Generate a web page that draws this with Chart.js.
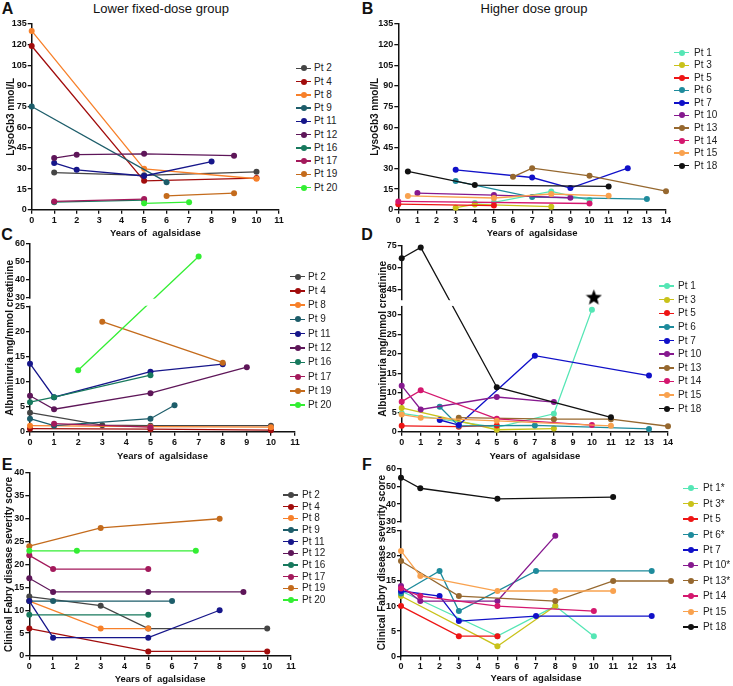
<!DOCTYPE html>
<html>
<head>
<meta charset="utf-8">
<script src="https://cdn.jsdelivr.net/npm/chart.js@4.4.1/dist/chart.umd.min.js"></script>
<style>
  body { margin: 0; background: #fff; width: 733px; height: 686px; position: relative; overflow: hidden;
         font-family: 'Liberation Sans', Arial, sans-serif; color: #111; }
  canvas { position: absolute; }
  .lbl { position: absolute; transform: translate(-50%, -50%); white-space: nowrap; }
  .letter { font-weight: bold; font-size: 16px; }
  .ptitle { font-size: 13px; }
  .leg { position: absolute; font-size: 10px; color: #222; white-space: nowrap; }
  .leg i { position: absolute; height: 1.5px; top: -0.75px; width: 15px; left: 0; }
  .leg b { position: absolute; width: 6px; height: 6px; border-radius: 50%; top: -3px; left: 4.5px; }
  .leg span { position: absolute; top: -6px; line-height: 12px; }
</style>
</head>
<body>
<div class="lbl letter" style="left:7.5px;top:8.5px">A</div>
<div class="lbl letter" style="left:367.5px;top:8.5px">B</div>
<div class="lbl letter" style="left:7px;top:235px">C</div>
<div class="lbl letter" style="left:367px;top:235px">D</div>
<div class="lbl letter" style="left:7px;top:465px">E</div>
<div class="lbl letter" style="left:367px;top:465px">F</div>
<div class="lbl ptitle" style="left:161px;top:8px">Lower fixed-dose group</div>
<div class="lbl ptitle" style="left:534px;top:8px">Higher dose group</div>

<script>
const xTitle = 'Years of  agalsidase';

const lowPatients = ['Pt 2', 'Pt 4', 'Pt 8', 'Pt 9', 'Pt 11', 'Pt 12', 'Pt 16', 'Pt 17', 'Pt 19', 'Pt 20'];
const highPatients = ['Pt 1', 'Pt 3', 'Pt 5', 'Pt 6', 'Pt 7', 'Pt 10', 'Pt 13', 'Pt 14', 'Pt 15', 'Pt 18'];
const highPatientsScore = ['Pt 1*', 'Pt 3*', 'Pt 5', 'Pt 6*', 'Pt 7', 'Pt 10*', 'Pt 13*', 'Pt 14', 'Pt 15', 'Pt 18'];

const lowColors = ['#454545', '#a10c0c', '#f7802a', '#1d5d6a', '#16168a', '#5e1659', '#17795d', '#a3195b', '#c46b1c', '#33ee33'];
const highColors = ['#55e6b5', '#c9c21a', '#ee1515', '#1e8b9c', '#1010c8', '#86198f', '#96682f', '#d4176e', '#f9a24f', '#111111'];

// A - lysoGb3, lower dose
const lysoLowYears = [[1, 5, 10], [0, 5, 10], [0, 5, 10], [0, 6], [1, 2, 5, 8], [1, 2, 5, 9], [1, 5], [1, 5], [6, 9], [5, 7]];
const lysoLowValues = [[27, 25, 27.5], [119, 21, 23], [130, 29.7, 22.5], [75, 20], [34, 29, 24.5, 35], [37.5, 40, 40.6, 39.3], [5.5, 7], [6, 7.7], [10, 12], [4.6, 5.5]];

// B - lysoGb3, higher dose
const lysoHighYears = [[4, 5, 8, 10], [3, 4, 8], [0, 5], [3, 7, 13], [3, 7, 9, 12], [1, 5, 9], [6, 7, 10, 14], [0, 10], [0.5, 5, 8, 11], [0.5, 4, 11]];
const lysoHighValues = [[4.9, 5.3, 13.3, 7], [1.5, 3.8, 2.2], [4, 3], [20.8, 9.2, 7.7], [29, 23.4, 15.7, 30.2], [12.1, 10.6, 8.7], [23.9, 30.2, 24.6, 13.5], [6, 4.5], [10, 8.5, 11.4, 10.1], [27.8, 17.9, 16.9]];

// C - albuminuria, lower dose
const albLowYears = [[0, 3, 5, 10], [0, 5, 10], [0, 5, 10], [0, 1, 5, 6], [0, 1, 5, 8], [0, 1, 5, 9], [0, 1, 5], [1, 5], [3, 8], [2, 7]];
const albLowValues = [[3.8, 1.3, 1.2, 1.2], [0.6, 0.5, 0.3], [1.2, 1.0, 0.9], [2.6, 1.2, 2.6, 5.3], [13.6, 6.9, 12, 13.5], [7.2, 4.5, 7.7, 12.9], [5.9, 6.9, 11.3], [1.6, 0.9], [22, 13.8], [12.3, 53]];

// D - albuminuria, higher dose
const albHighYears = [[0, 5, 8, 10], [0, 5, 8], [0, 3, 5], [2, 3, 7, 13], [2, 3, 7, 13], [0, 1, 5, 8], [3, 8, 11, 14], [0, 1, 5, 10], [0, 1, 5, 11], [0, 1, 5, 11]];
const albHighValues = [[4.7, 1.1, 4.6, 31.3], [6.1, 0.5, 0.8], [1.5, 1.3, 1.6], [6.4, 1.5, 1.6, 0.7], [3, 1.7, 19.5, 14.4], [11.8, 5.7, 8.9, 7.6], [3.6, 3.2, 3.2, 1.4], [7.7, 10.6, 3.3, 1.7], [4.4, 3.6, 2.8, 1.5], [66.5, 74, 11.4, 3.7]];
const starYears = [10.1];
const starValues = [39.5];

// E - severity score, lower dose
const scoreLowYears = [[0, 3, 5, 10], [0, 5, 10], [0, 3, 5], [0, 1, 6], [0, 1, 5, 8], [0, 1, 5, 9], [0, 5], [0, 1, 5], [0, 3, 8], [0, 2, 7]];
const scoreLowValues = [[13, 11, 6, 6], [6, 1, 1], [12, 6, 6], [12, 12, 12], [12, 4, 4, 10], [17, 14, 14, 14], [9, 9], [22, 19, 19], [24, 28, 30], [23, 23, 23]];

// F - severity score, higher dose
const scoreHighYears = [[0, 5, 8, 10], [0, 5, 8], [0, 3, 5], [0, 2, 3, 7, 13], [0, 2, 3, 7, 13], [0, 1, 5, 8], [0, 3, 8, 11, 14], [0, 1, 5, 10], [0, 1, 5, 8, 11], [0, 1, 5, 11]];
const scoreHighValues = [[13, 4, 10, 4], [12, 2, 10], [10, 4, 4], [12.5, 17, 9, 17, 17], [13, 12, 7, 8, 8], [14, 11, 11, 24], [19, 12, 11, 15, 15], [13.5, 12, 10, 9], [21, 16, 13, 13, 13], [55, 49, 43, 44]];

const lysoTicks = [0, 15, 30, 45, 60, 75, 90, 105, 120, 135];
const albLowTicks = [0, 5, 10, 15, 20, 25, 30, 40, 50, 60];
const albHighTicks = [0, 5, 10, 15, 20, 25, 30, 45, 60, 75];
const scoreLowTicks = [0, 5, 10, 15, 20, 25, 30, 35, 40];
const scoreHighTicks = [0, 5, 10, 15, 20, 25, 30, 40, 50, 60];

// y axis with a gap between a low and a high segment (GraphPad style)
class BrokenScale extends Chart.LinearScale {
  static id = 'brokenLinear';
  static defaults = Chart.LinearScale.defaults;
  segs() {
    const b = this.options.brk;
    const span = this.bottom - this.top - b.gap;
    return { b, lowH: span * b.lowFrac, upH: span * (1 - b.lowFrac) };
  }
  getPixelForValue(v) {
    if (v === null || v === undefined) return NaN;
    const { b, lowH, upH } = this.segs();
    if (v <= b.lowMax) return this.bottom - (v - this.min) / (b.lowMax - this.min) * lowH;
    if (v >= b.upMin) return this.top + (this.max - v) / (this.max - b.upMin) * upH;
    return this.bottom - lowH - (v - b.lowMax) / (b.upMin - b.lowMax) * b.gap;
  }
  getValueForPixel(px) {
    const { b, lowH, upH } = this.segs();
    if (px >= this.bottom - lowH) return this.min + (this.bottom - px) / lowH * (b.lowMax - this.min);
    if (px <= this.top + upH) return this.max - (px - this.top) / upH * (this.max - b.upMin);
    return b.lowMax + (this.bottom - lowH - px) / b.gap * (b.upMin - b.lowMax);
  }
}
Chart.register(BrokenScale);

function eraseGap(chart) {
  const s = chart.scales.y;
  const b = s.options.brk;
  if (!b) return;
  const y1 = s.getPixelForValue(b.upMin) + 1;
  const y2 = s.getPixelForValue(b.lowMax) - 1;
  const ctx = chart.ctx;
  ctx.save();
  ctx.fillStyle = '#fff';
  ctx.fillRect(chart.chartArea.left - 3, y1, chart.chartArea.right - chart.chartArea.left + 20, y2 - y1);
  ctx.restore();
}

const breakGap = {
  id: 'breakGap',
  beforeDatasetDraw(chart, args) {
    if (chart.data.datasets[args.index].isStar) eraseGap(chart);
  },
  afterDatasetsDraw(chart) {
    if (!chart.data.datasets.some(d => d.isStar)) eraseGap(chart);
  }
};

function starImage(size) {
  const c = document.createElement('canvas');
  c.width = c.height = size;
  const g = c.getContext('2d');
  const r = size / 2, ri = r * 0.42;
  g.fillStyle = '#000';
  g.beginPath();
  for (let k = 0; k < 10; k++) {
    const rr = k % 2 ? ri : r;
    const a = -Math.PI / 2 + k * Math.PI / 5;
    g.lineTo(r + rr * Math.cos(a), r * 1.08 + rr * Math.sin(a));
  }
  g.closePath();
  g.fill();
  return c;
}

const tickFont = { family: "'Liberation Sans', Arial, sans-serif", size: 9, weight: 'bold' };
const yTitleFont = { family: "'Liberation Sans', Arial, sans-serif", size: 10, weight: 'bold' };
const xTitleFont = { family: "'Liberation Sans', Arial, sans-serif", size: 9.5, weight: 'bold' };

function makePanel(p) {
  const cx = p.x0, cy = p.top - 14;
  const cw = p.right + 14 - cx, ch = p.xTitleY + 9 - cy;
  const cv = document.createElement('canvas');
  cv.width = cw; cv.height = ch;
  cv.style.left = cx + 'px'; cv.style.top = cy + 'px';
  document.body.appendChild(cv);

  const datasets = p.names.map((name, i) => ({
    label: name,
    data: p.xs[i].map((x, j) => ({ x: x, y: p.ys[i][j] })),
    borderColor: p.colors[i],
    backgroundColor: p.colors[i],
    pointBackgroundColor: p.colors[i],
    pointBorderWidth: 0,
    pointRadius: 3,
    borderWidth: 1.3,
    clip: false,
    order: -i
  }));
  if (p.star) {
    datasets.push({
      label: 'star',
      isStar: true,
      data: p.star.xs.map((x, j) => ({ x: x, y: p.star.ys[j] })),
      showLine: false,
      pointStyle: starImage(17),
      clip: false,
      order: -100
    });
  }

  new Chart(cv, {
    type: 'line',
    data: { datasets },
    options: {
      responsive: false,
      animation: false,
      events: [],
      layout: { padding: { top: 14, right: 14, left: 0, bottom: 0 } },
      plugins: { legend: { display: false }, tooltip: { enabled: false } },
      scales: {
        x: {
          type: 'linear', min: 0, max: p.xMax,
          afterBuildTicks: a => { a.ticks = p.xTicks.map(v => ({ value: v })); },
          afterFit: s => { s.height = cy + ch - p.bottom; },
          grid: { display: true, drawOnChartArea: false, drawTicks: true, tickLength: 4, color: '#111', lineWidth: 1.3 },
          border: { display: true, color: '#111', width: 1.5 },
          ticks: { font: tickFont, color: '#111', padding: 1, autoSkip: false, maxRotation: 0 },
          title: { display: true, text: xTitle, font: xTitleFont, color: '#111',
                   padding: { top: 0, bottom: cy + ch - p.xTitleY - 5.7 } }
        },
        y: {
          type: p.brk ? 'brokenLinear' : 'linear',
          min: p.yTicks[0], max: p.yTicks[p.yTicks.length - 1],
          brk: p.brk,
          afterBuildTicks: a => { a.ticks = p.yTicks.map(v => ({ value: v })); },
          afterFit: s => { s.width = p.left - cx; },
          grid: { display: true, drawOnChartArea: false, drawTicks: true, tickLength: 4, color: '#111', lineWidth: 1.3 },
          border: { display: true, color: '#111', width: 1.5 },
          ticks: { font: tickFont, color: '#111', padding: 1 },
          title: { display: true, text: p.yTitle, font: yTitleFont, color: '#111',
                   padding: { top: p.yTitleX - cx - 6, bottom: 0 } }
        }
      }
    },
    plugins: [breakGap]
  });

  // legend
  p.names.forEach((name, i) => {
    const row = document.createElement('div');
    row.className = 'leg';
    row.style.left = p.legX + 'px';
    row.style.top = (p.legTop + i * p.legStep) + 'px';
    row.innerHTML = '<i style="background:' + p.colors[i] + '"></i><b style="background:' + p.colors[i] + '"></b>' +
      '<span style="left:' + (p.legTextX - p.legX) + 'px">' + name + '</span>';
    document.body.appendChild(row);
  });
}

const xTicks11 = [0, 1, 2, 3, 4, 5, 6, 7, 8, 9, 10, 11];
const xTicks14 = [0, 1, 2, 3, 4, 5, 6, 7, 8, 9, 10, 11, 12, 13, 14];

makePanel({ x0: 0, left: 31.7, right: 279, top: 24.3, bottom: 210.7, xTitleY: 234, yTitleX: 11,
  xMax: 11, xTicks: xTicks11, yTicks: lysoTicks, yTitle: 'LysoGb3 nmol/L',
  names: lowPatients, colors: lowColors, xs: lysoLowYears, ys: lysoLowValues,
  legX: 296, legTextX: 314, legTop: 68.3, legStep: 13.27 });

makePanel({ x0: 366, left: 398.3, right: 666, top: 24.3, bottom: 210.7, xTitleY: 234, yTitleX: 375.5,
  xMax: 14, xTicks: xTicks14, yTicks: lysoTicks, yTitle: 'LysoGb3 nmol/L',
  names: highPatients, colors: highColors, xs: lysoHighYears, ys: lysoHighValues,
  legX: 674, legTextX: 694, legTop: 52.7, legStep: 12.55 });

makePanel({ x0: 0, left: 30, right: 295, top: 244, bottom: 431.7, xTitleY: 456, yTitleX: 10,
  xMax: 11, xTicks: xTicks11, yTicks: albLowTicks, yTitle: 'Albuminuria mg/mmol creatinine',
  brk: { lowMax: 25, upMin: 30, gap: 9, lowFrac: 0.6995 },
  names: lowPatients, colors: lowColors, xs: albLowYears, ys: albLowValues,
  legX: 290, legTextX: 308, legTop: 276.7, legStep: 14.26 });

makePanel({ x0: 366, left: 401.7, right: 668.7, top: 245.7, bottom: 431.7, xTitleY: 456, yTitleX: 383,
  xMax: 14, xTicks: xTicks14, yTicks: albHighTicks, yTitle: 'Albuminuria mg/mmol creatinine',
  brk: { lowMax: 32, upMin: 38, gap: 7.7, lowFrac: 0.701 },
  star: { xs: starYears, ys: starValues },
  names: highPatients, colors: highColors, xs: albHighYears, ys: albHighValues,
  legX: 659, legTextX: 678, legTop: 286, legStep: 13.63 });

makePanel({ x0: 0, left: 29.3, right: 291, top: 472.7, bottom: 656, xTitleY: 679, yTitleX: 9.5,
  xMax: 11, xTicks: xTicks11, yTicks: scoreLowTicks, yTitle: 'Clinical Fabry disease severity score',
  names: lowPatients, colors: lowColors, xs: scoreLowYears, ys: scoreLowValues,
  legX: 283, legTextX: 302, legTop: 495, legStep: 11.67 });

makePanel({ x0: 366, left: 401, right: 671.7, top: 469, bottom: 656.7, xTitleY: 678.5, yTitleX: 382,
  xMax: 14, xTicks: xTicks14, yTicks: scoreHighTicks, yTitle: 'Clinical Fabry disease severity score',
  brk: { lowMax: 25, upMin: 30, gap: 9.3, lowFrac: 0.7046 },
  names: highPatientsScore, colors: highColors, xs: scoreHighYears, ys: scoreHighValues,
  legX: 683, legTextX: 703, legTop: 488.3, legStep: 15.4 });
</script>
</body>
</html>
